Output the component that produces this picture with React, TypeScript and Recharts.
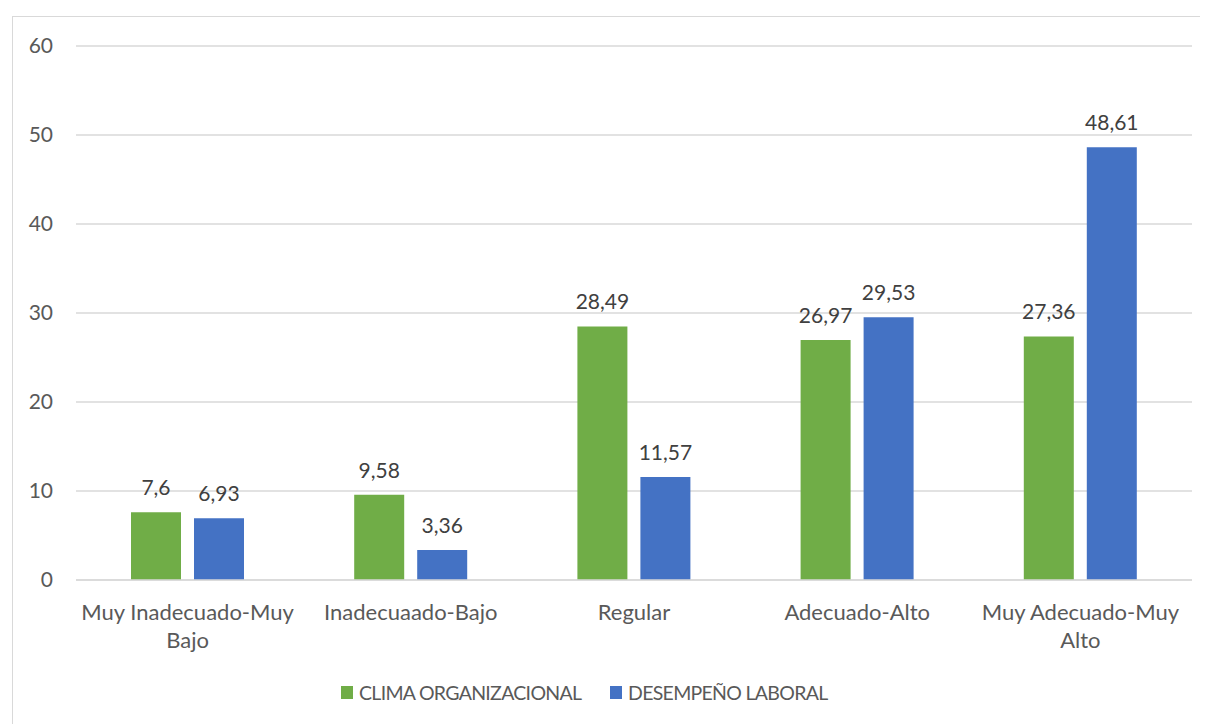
import React from "react";
import { BarChart, Bar, XAxis, YAxis, CartesianGrid, LabelList, Legend } from "recharts";

const categories = [
  "Muy Inadecuado-Muy Bajo",
  "Inadecuaado-Bajo",
  "Regular",
  "Adecuado-Alto",
  "Muy Adecuado-Muy Alto",
];
const climaValues = [7.6, 9.58, 28.49, 26.97, 27.36];
const desempenoValues = [6.93, 3.36, 11.57, 29.53, 48.61];
const yTicks = [0, 10, 20, 30, 40, 50, 60];
const seriesNames = ["CLIMA ORGANIZACIONAL", "DESEMPEÑO LABORAL"];

const GREEN = "#70AD47";
const BLUE = "#4472C4";
const TEXT = "#595959";
const FONT = "Lato, 'Open Sans', sans-serif";

const data = categories.map((c, i) => ({
  name: c,
  clima: climaValues[i],
  desempeno: desempenoValues[i],
}));

const fmt = (v: any) => String(v).replace(".", ",");

function splitLabel(s: string): string[] {
  if (s.length > 18) {
    const idx = s.lastIndexOf(" ");
    return [s.slice(0, idx), s.slice(idx + 1)];
  }
  return [s];
}

const XTick = (props: any) => {
  const { x, y, payload } = props;
  const lines = splitLabel(payload.value);
  return (
    <text x={x} y={y + 40} textAnchor="middle" fill={TEXT} fontSize={22} fontFamily={FONT}>
      {lines.map((l, i) => (
        <tspan key={i} x={x} dy={i === 0 ? 0 : 28}>
          {l}
        </tspan>
      ))}
    </text>
  );
};

const LegendContent = () => (
  <div
    style={{
      display: "flex",
      alignItems: "center",
      paddingLeft: 333,
      paddingTop: 7,
      fontFamily: FONT,
      fontSize: 19.5,
      letterSpacing: -0.7,
      color: TEXT,
    }}
  >
    {seriesNames.map((n, i) => (
      <div key={n} style={{ display: "flex", alignItems: "center", width: i === 0 ? 269 : "auto" }}>
        <div style={{ width: 12, height: 13, background: i === 0 ? GREEN : BLUE, marginRight: 6 }} />
        <span>{n}</span>
      </div>
    ))}
  </div>
);

export default function App() {
  return (
    <div style={{ position: "relative", width: 1200, height: 716, overflow: "hidden" }}>
      <div
        style={{
          position: "absolute",
          left: 4,
          top: 8,
          width: 1400,
          height: 900,
          border: "1px solid #D9D9D9",
          boxSizing: "border-box",
        }}
      />
      <div style={{ position: "absolute", left: 0, top: 0 }}>
        <BarChart
          width={1200}
          height={716}
          data={data}
          margin={{ top: 38, right: 16, left: 0, bottom: 0 }}
          barSize={50}
          barGap={13}
        >
          <CartesianGrid vertical={false} stroke="#D9D9D9" strokeWidth={1.3} />
          <XAxis
            dataKey="name"
            axisLine={{ stroke: "#D9D9D9", strokeWidth: 1.3 }}
            tickLine={false}
            tickSize={0}
            tickMargin={0}
            height={94}
            interval={0}
            tick={<XTick />}
          />
          <YAxis
            domain={[0, 60]}
            ticks={yTicks}
            width={68}
            axisLine={false}
            tickLine={false}
            tickSize={0}
            tickMargin={23}
            tick={{ fill: TEXT, fontSize: 21, fontFamily: FONT }}
          />
          <Legend verticalAlign="bottom" height={50} content={<LegendContent />} />
          <Bar dataKey="clima" name={seriesNames[0]} fill={GREEN} isAnimationActive={false}>
            <LabelList
              dataKey="clima"
              position="top"
              offset={17}
              formatter={fmt}
              fill="#404040"
              fontSize={21}
              fontFamily={FONT}
            />
          </Bar>
          <Bar dataKey="desempeno" name={seriesNames[1]} fill={BLUE} isAnimationActive={false}>
            <LabelList
              dataKey="desempeno"
              position="top"
              offset={17}
              formatter={fmt}
              fill="#404040"
              fontSize={21}
              fontFamily={FONT}
            />
          </Bar>
        </BarChart>
      </div>
    </div>
  );
}
